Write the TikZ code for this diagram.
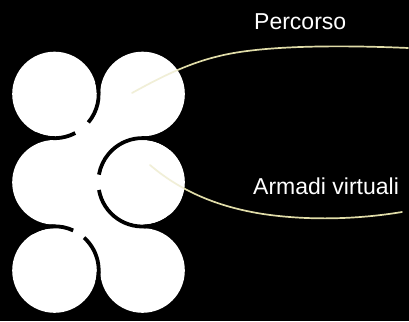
\documentclass[tikz,border=0pt]{standalone}
\usepackage{fontspec}
\setmainfont{Liberation Sans}
\definecolor{guidecol}{RGB}{224,220,168}
\begin{document}
\begin{tikzpicture}[x=1pt,y=1pt,
  blob/.style={circle, fill=white, minimum size=84.6pt, inner sep=0pt, outer sep=0pt},
  gapline/.style={draw=black, line width=3.8pt, line cap=butt},
  guide/.style={draw=guidecol, line width=1.7pt, line cap=round},
  lbl/.style={text=white, font=\fontsize{23}{27}\selectfont, anchor=base west, inner sep=0pt}]
\fill[black] (0,0) rectangle (409,321);
\useasboundingbox (0,0) rectangle (409,321);
% filler between the discs
\fill[white] (54.5,50.5) rectangle (142.5,227);
% discs
\node[blob] (tl) at (54.5,227) {};
\node[blob] (tr) at (142.5,227) {};
\node[blob] (ml) at (54.5,138.7) {};
\node[blob] (mr) at (142.5,138.7) {};
\node[blob] (bl) at (54.5,50.5) {};
\node[blob] (br) at (142.5,50.5) {};
% gaps around discs
\draw[gapline] ([shift={(-115:44.2)}]tl.center) arc[start angle=-115, end angle=-62, radius=44.2];
\draw[gapline] ([shift={(-40:44.2)}]tl.center) arc[start angle=-40, end angle=15, radius=44.2];
\draw[gapline] ([shift={(50:44.2)}]mr.center) arc[start angle=50, end angle=170, radius=44.2];
\draw[gapline] ([shift={(190:44.2)}]mr.center) arc[start angle=190, end angle=310, radius=44.2];
\draw[gapline] ([shift={(65:44.2)}]bl.center) arc[start angle=65, end angle=120, radius=44.2];
\draw[gapline] ([shift={(-15:44.2)}]bl.center) arc[start angle=-15, end angle=48, radius=44.2];
% labels
\node[lbl] (percorso) at (254,291.7) {Percorso};
\node[lbl] (armadi) at (253,126) {Armadi virtuali};
% guide curves
\coordinate (pa) at (408,273);
\coordinate (pb) at (402,109);
\draw[guide] (pa) .. controls (340,276) and (280,275) .. (240,269)
  .. controls (200,263) and (170,249) .. ([shift={(-10.5,1)}]tr.center);
\draw[guide] (pb) .. controls (360,102) and (310,100) .. (263,107)
  .. controls (225,113) and (185,126) .. ([shift={(7.5,17.3)}]mr.center);
% soften the curves where they cross the discs
\fill[white, opacity=0.55] (tr.center) circle[radius=42];
\fill[white, opacity=0.55] (mr.center) circle[radius=42];
\end{tikzpicture}
\end{document}
